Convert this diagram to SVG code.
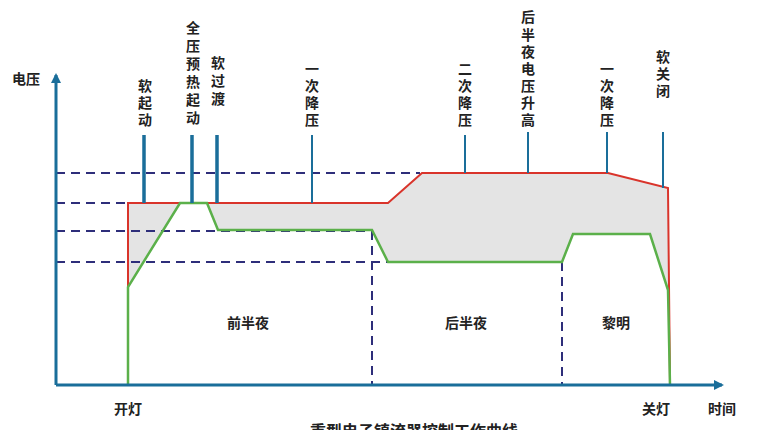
<svg xmlns="http://www.w3.org/2000/svg" width="765" height="430" viewBox="0 0 765 430">
<style>
text{font-family:"Noto Sans CJK SC","Liberation Sans",sans-serif;font-size:14px;font-weight:bold;fill:#222;text-anchor:middle}
.d{stroke:#2e2e7a;stroke-width:2;stroke-dasharray:9,6;fill:none}
.m{stroke:#1a6e9a;fill:none}
</style>
<defs><marker id="a" markerWidth="10" markerHeight="10" refX="8" refY="5" orient="auto" markerUnits="userSpaceOnUse"><path d="M0,0L10,5L0,10z" fill="#1a6e9a"/></marker></defs>
<rect width="765" height="430" fill="#fff"/>
<g id="fill"><polygon points="128,203 388,203 422,173 608,173 668,188 670,385 668,290 650,234 573,234 562,262 388,262 372,230 218,230 207,203 180,203 128,287" fill="#e4e4e4"/></g>
<g id="connectors">
<path class="d" d="M56,173H420M56,203H128M56,231H372M56,262H388M372,231V385M562,262V385"/>
<polyline points="128,385 128,203 388,203 422,173 608,173 668,188 670,385" fill="none" stroke="#d9342b" stroke-width="2"/>
<polyline points="128,385 128,287 180,203 207,203 218,230 372,230 388,262 562,262 573,234 650,234 668,290 670,385" fill="none" stroke="#5bb04a" stroke-width="2.5"/>
<path class="m" stroke-width="3.5" d="M144,135V203M192,135V203M217,135V203"/>
<path class="m" stroke-width="2" d="M312,135V203M465,135V173M528,132V173M607,132V173M663,132V188"/>
<path stroke="#1a6e9a" stroke-width="3" d="M56,385V75" marker-end="url(#a)" fill="none"/>
<path stroke="#1a6e9a" stroke-width="3" d="M56,385H722" marker-end="url(#a)" fill="none"/>
</g>
<g id="labels">
<text x="145" y="91">软</text><text x="145" y="108">起</text><text x="145" y="125">动</text>
<text x="193" y="33">全</text><text x="193" y="51">压</text><text x="193" y="69">预</text><text x="193" y="87">热</text><text x="193" y="105">起</text><text x="193" y="123">动</text>
<text x="218" y="68">软</text><text x="218" y="86">过</text><text x="218" y="104">渡</text>
<text x="312" y="74">一</text><text x="312" y="91">次</text><text x="312" y="108">降</text><text x="312" y="125">压</text>
<text x="465" y="74">二</text><text x="465" y="91">次</text><text x="465" y="108">降</text><text x="465" y="125">压</text>
<text x="528" y="22">后</text><text x="528" y="40">半</text><text x="528" y="57">夜</text><text x="528" y="74">电</text><text x="528" y="91">压</text><text x="528" y="108">升</text><text x="528" y="125">高</text>
<text x="607" y="74">一</text><text x="607" y="91">次</text><text x="607" y="108">降</text><text x="607" y="125">压</text>
<text x="663" y="62">软</text><text x="663" y="79">关</text><text x="663" y="96">闭</text>
<text x="248" y="328">前半夜</text><text x="466" y="328">后半夜</text><text x="616" y="328">黎明</text>
<text x="128" y="414">开灯</text><text x="656" y="414">关灯</text><text x="722" y="414">时间</text>
<text x="26" y="84">电压</text>
<text x="414" y="437" style="font-size:16px">重型电子镇流器控制工作曲线</text>
</g>
</svg>
